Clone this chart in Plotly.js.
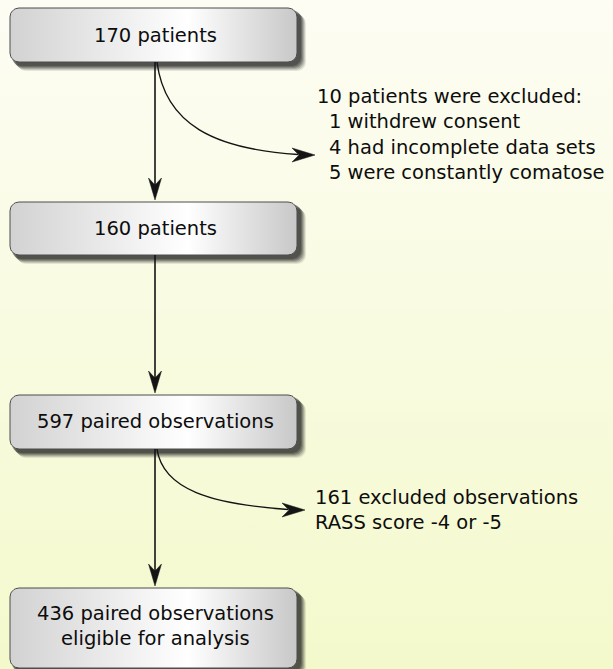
<!DOCTYPE html>
<html>
<head>
<meta charset="utf-8">
<script src="https://cdn.plot.ly/plotly-3.0.1.min.js"></script>
<style>html,body{margin:0;padding:0;background:#fff;}#chart{width:613px;height:669px;}</style>
</head>
<body>
<div id="chart"></div>
<script>
// ---- data ----
var stageCounts = [170, 160, 597, 436];
var stageLabels = ["patients", "patients", "paired observations", "paired observations<br>eligible for analysis"];
var exclusion1Total = 10;
var exclusion1Counts = [1, 4, 5];
var exclusion1Reasons = ["withdrew consent", "had incomplete data sets", "were constantly comatose"];
var exclusion2Count = 161;
var exclusion2Reason = "RASS score -4 or -5";

// ---- layout geometry (pixels, y down) ----
var W = 613, H = 669;
var boxX0 = 10, boxX1 = 297;
var boxY = [[8, 62], [202, 255], [395, 449], [588, 668]];
var lineX = 155;
var FONT = "DejaVu Sans";

function roundRect(x0, y0, x1, y1, r) {
  var xs = [], ys = [];
  function arc(cx, cy, a0, a1) {
    for (var i = 0; i <= 8; i++) {
      var a = a0 + (a1 - a0) * i / 8;
      xs.push(cx + r * Math.cos(a));
      ys.push(cy + r * Math.sin(a));
    }
  }
  var P = Math.PI;
  arc(x1 - r, y0 + r, -P / 2, 0);
  arc(x1 - r, y1 - r, 0, P / 2);
  arc(x0 + r, y1 - r, P / 2, P);
  arc(x0 + r, y0 + r, P, 1.5 * P);
  xs.push(xs[0]); ys.push(ys[0]);
  return {x: xs, y: ys};
}

var traces = [];
// background gradient
traces.push({
  type: "scatter", mode: "lines", x: [0, W, W, 0, 0], y: [0, 0, H, H, 0],
  fill: "toself", line: {width: 0, color: "rgba(0,0,0,0)"},
  fillgradient: {type: "vertical", colorscale: [[0, "#fdfdf4"], [1, "#f4f9cc"]], start: 0, stop: H},
  hoverinfo: "skip", showlegend: false
});
// shadows
boxY.forEach(function (b) {
  var layers = [[9, 0.10], [8, 0.14], [7, 0.18], [6, 0.22], [5, 0.26], [4, 0.30]];
  layers.forEach(function (L) {
    var off = L[0];
    var rr = roundRect(boxX0 + off - 2, b[0] + off - 2, boxX1 + off, b[1] + off, 9);
    traces.push({
      type: "scatter", mode: "lines", x: rr.x, y: rr.y, fill: "toself",
      fillcolor: "rgba(25,25,25," + L[1] + ")", line: {width: 0, color: "rgba(0,0,0,0)"},
      hoverinfo: "skip", showlegend: false
    });
  });
});
// boxes
boxY.forEach(function (b) {
  var rr = roundRect(boxX0, b[0], boxX1, b[1], 9);
  traces.push({
    type: "scatter", mode: "lines", x: rr.x, y: rr.y, fill: "toself",
    fillgradient: {type: "horizontal", colorscale: [[0, "#d2d2d2"], [0.62, "#ffffff"], [1, "#c8c8c8"]]},
    line: {width: 1, color: "#4d4d4d"},
    hoverinfo: "skip", showlegend: false
  });
});

var shapes = [];
var arrowColor = "#141414";
function headDown(x, y) {
  return "M" + x + "," + y + " L" + (x - 6.5) + "," + (y - 22) + " L" + x + "," + (y - 15) + " L" + (x + 6.5) + "," + (y - 22) + " Z";
}
function headRight(x, y) {
  return "M" + x + "," + y + " L" + (x - 23) + "," + (y - 7) + " L" + (x - 16) + "," + y + " L" + (x - 23) + "," + (y + 7) + " Z";
}
for (var i = 0; i < boxY.length - 1; i++) {
  var y0 = boxY[i][1], y1 = boxY[i + 1][0] - 2;
  shapes.push({type: "line", xref: "x", yref: "y", x0: lineX, x1: lineX, y0: y0, y1: y1 - 10, line: {color: arrowColor, width: 1.6}});
  shapes.push({type: "path", xref: "x", yref: "y", path: headDown(lineX, y1), fillcolor: arrowColor, line: {color: arrowColor, width: 0.5}});
}
// curved arrows
shapes.push({type: "path", xref: "x", yref: "y", path: "M157,62 C165,125 215,149 298,154.5", line: {color: arrowColor, width: 1.4}});
shapes.push({type: "path", xref: "x", yref: "y", path: headRight(315, 155), fillcolor: arrowColor, line: {color: arrowColor, width: 0.5}});
shapes.push({type: "path", xref: "x", yref: "y", path: "M157,449 C163,490 212,504 288,509.5", line: {color: arrowColor, width: 1.4}});
shapes.push({type: "path", xref: "x", yref: "y", path: headRight(305, 510), fillcolor: arrowColor, line: {color: arrowColor, width: 0.5}});

var annotations = [];
var boxTextY = [35, 228.5, 421, 626];
stageCounts.forEach(function (c, i) {
  annotations.push({
    xref: "x", yref: "y", x: lineX, y: boxTextY[i], showarrow: false, xanchor: "center", yanchor: "middle",
    text: c + " " + stageLabels[i], font: {family: FONT, size: 19.5, color: "#0d0d0d"}
  });
});
var SIDE = 19.5;
annotations.push({xref: "x", yref: "y", x: 315, y: 96, showarrow: false, xanchor: "left", yanchor: "middle",
  text: exclusion1Total + " patients were excluded:", font: {family: FONT, size: SIDE, color: "#0d0d0d"}});
var exY = [121.5, 147, 172.5];
exclusion1Counts.forEach(function (c, i) {
  annotations.push({xref: "x", yref: "y", x: 327, y: exY[i], showarrow: false, xanchor: "left", yanchor: "middle",
    text: c + " " + exclusion1Reasons[i], font: {family: FONT, size: SIDE, color: "#0d0d0d"}});
});
annotations.push({xref: "x", yref: "y", x: 313, y: 497, showarrow: false, xanchor: "left", yanchor: "middle",
  text: exclusion2Count + " excluded observations", font: {family: FONT, size: SIDE, color: "#0d0d0d"}});
annotations.push({xref: "x", yref: "y", x: 313, y: 522, showarrow: false, xanchor: "left", yanchor: "middle",
  text: exclusion2Reason, font: {family: FONT, size: SIDE, color: "#0d0d0d"}});

var layout = {
  width: W, height: H, margin: {l: 0, r: 0, t: 0, b: 0},
  paper_bgcolor: "#ffffff", plot_bgcolor: "rgba(0,0,0,0)",
  xaxis: {range: [0, W], visible: false, fixedrange: true},
  yaxis: {range: [H, 0], visible: false, fixedrange: true},
  shapes: shapes, annotations: annotations, showlegend: false, hovermode: false
};
Plotly.newPlot("chart", traces, layout, {displayModeBar: false, staticPlot: true});
</script>
</body>
</html>
